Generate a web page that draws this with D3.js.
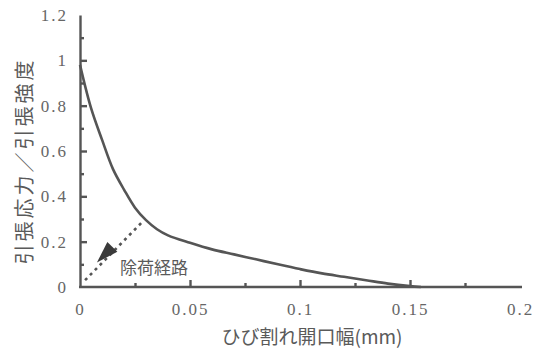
<!DOCTYPE html>
<html>
<head>
<meta charset="utf-8">
<script src="https://cdn.jsdelivr.net/npm/d3@7"></script>
<style>
  body { margin: 0; background: #fff; }
  .axis path, .axis line { stroke: #555; stroke-width: 2.4; }
  .title { font-family: "Noto Sans CJK JP", sans-serif; fill: #5a5a5a; }
</style>
</head>
<body>
<div id="chart"></div>
<script>
// crack opening (mm) vs stress ratio
const crackWidth = [0, 0.005, 0.01, 0.015, 0.02, 0.025, 0.03, 0.035, 0.04, 0.05, 0.06, 0.07, 0.08, 0.09, 0.1, 0.11, 0.12, 0.13, 0.14, 0.15, 0.155];
const stressRatio = [0.98, 0.79, 0.65, 0.52, 0.43, 0.35, 0.295, 0.255, 0.228, 0.195, 0.166, 0.144, 0.122, 0.1, 0.079, 0.06, 0.045, 0.03, 0.015, 0.004, 0];

// unloading path (dotted) and its arrow tip
const unloadX = [0.0023, 0.028];
const unloadY = [0.03, 0.284];
const arrowTip = [0.0077, 0.108];

const xTicks = [0, 0.05, 0.1, 0.15, 0.2];
const xMinor = [0.025, 0.075, 0.125, 0.175];
const yTicks = [0, 0.2, 0.4, 0.6, 0.8, 1, 1.2];
const yMinor = [0.1, 0.3, 0.5, 0.7, 0.9, 1.1];

const W = 538, H = 349;
const svg = d3.select('#chart').append('svg')
    .attr('width', W)
    .attr('height', H);

const x = d3.scaleLinear().domain([0, 0.2]).range([80, 520]);
const y = d3.scaleLinear().domain([0, 1.2]).range([287, 15]);

function styleLabels(g) {
    g.attr('font-family', null).attr('font-size', null);
    g.selectAll('text')
        .attr('font-family', '"Liberation Serif", serif')
        .attr('font-size', 17)
        .attr('letter-spacing', 2)
        .attr('fill', '#666');
}

// minor ticks first
svg.append('g')
    .attr('class', 'axis')
    .attr('transform', `translate(0,${y(0)})`)
    .call(d3.axisBottom(x).tickValues(xMinor).tickSize(-4).tickSizeOuter(0).tickFormat(''))
    .select('.domain').remove();

svg.append('g')
    .attr('class', 'axis')
    .attr('transform', `translate(${x(0)},0)`)
    .call(d3.axisLeft(y).tickValues(yMinor).tickSize(-4).tickSizeOuter(0).tickFormat(''))
    .select('.domain').remove();

const xAxis = svg.append('g')
    .attr('class', 'axis')
    .attr('transform', `translate(0,${y(0)})`)
    .call(d3.axisBottom(x).tickValues(xTicks).tickSize(-7).tickSizeOuter(0).tickPadding(16).tickFormat(d3.format('~g')))
    .call(styleLabels);
xAxis.select('.domain').attr('d', `M${x(0) - 1},0H${x(0.2) + 2}`);

const yAxis = svg.append('g')
    .attr('class', 'axis')
    .attr('transform', `translate(${x(0)},0)`)
    .call(d3.axisLeft(y).tickValues(yTicks).tickSize(-7).tickSizeOuter(0).tickPadding(12).tickFormat(d3.format('~g')))
    .call(styleLabels);

// no tick marks at the very ends
xAxis.selectAll('.tick').filter(d => d === 0.2 || d === 0).select('line').remove();
yAxis.selectAll('.tick').filter(d => d === 1.2 || d === 0).select('line').remove();

// softening curve
const line = d3.line()
    .x(d => x(d[0]))
    .y(d => y(d[1]))
    .curve(d3.curveCatmullRom.alpha(0.5));

svg.append('path')
    .datum(crackWidth.map((c, i) => [c, stressRatio[i]]))
    .attr('d', line)
    .attr('fill', 'none')
    .attr('stroke', '#555')
    .attr('stroke-width', 2.6);

// unloading path
svg.append('line')
    .attr('x1', x(unloadX[0])).attr('y1', y(unloadY[0]))
    .attr('x2', x(unloadX[1])).attr('y2', y(unloadY[1]))
    .attr('stroke', '#555')
    .attr('stroke-width', 2.6)
    .attr('stroke-dasharray', '3,4');

// arrow head pointing down-left along the path
const tx = x(arrowTip[0]), ty = y(arrowTip[1]);
const ang = Math.atan2(y(unloadY[1]) - y(unloadY[0]), x(unloadX[1]) - x(unloadX[0]));
const len = 22, half = 7;
const bx = tx + len * Math.cos(ang), by = ty + len * Math.sin(ang);
const px = -Math.sin(ang) * half, py = Math.cos(ang) * half;
svg.append('path')
    .attr('d', `M${tx},${ty}L${bx + px},${by + py}L${bx - px},${by - py}Z`)
    .attr('fill', '#3a3a3a');

svg.append('text')
    .attr('class', 'title')
    .attr('x', 120)
    .attr('y', 274)
    .attr('font-size', 17)
    .text('除荷経路');

// axis titles
svg.append('text')
    .attr('class', 'title')
    .attr('x', 312)
    .attr('y', 344)
    .attr('text-anchor', 'middle')
    .attr('font-size', 19)
    .text('ひび割れ開口幅(mm)');

svg.append('text')
    .attr('class', 'title')
    .attr('transform', 'translate(32,161) rotate(-90)')
    .attr('text-anchor', 'middle')
    .attr('font-size', 20)
    .attr('letter-spacing', 3)
    .text('引張応力／引張強度');
</script>
</body>
</html>
